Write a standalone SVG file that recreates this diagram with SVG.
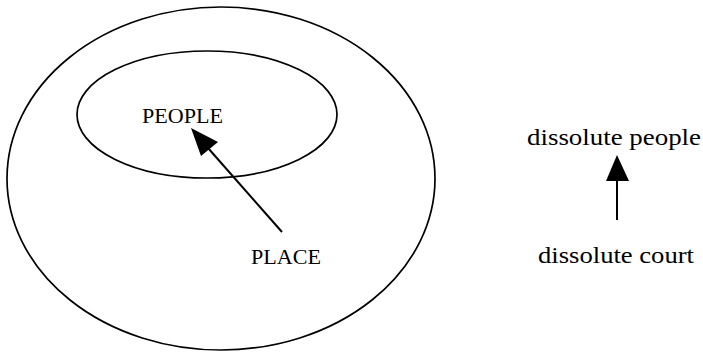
<svg xmlns="http://www.w3.org/2000/svg" width="703" height="353" viewBox="0 0 703 353">
<style>
.shape{fill:none;stroke:#000;stroke-width:1.7}
.lbl{font-family:"Liberation Serif","Times New Roman",serif;fill:#000}
.conn{stroke:#000;stroke-width:2;fill:none}
.head{fill:#000;stroke:none}
</style>
<rect width="703" height="353" fill="#fff"/>
<g id="outer"><ellipse class="shape" cx="221" cy="178.5" rx="214" ry="171.5"/></g>
<g id="inner"><ellipse class="shape" cx="207" cy="114.5" rx="130" ry="63.5"/></g>
<g id="people"><text class="lbl" x="142" y="123" font-size="21" textLength="81" lengthAdjust="spacingAndGlyphs">PEOPLE</text></g>
<g id="place"><text class="lbl" x="251" y="264" font-size="22" textLength="70" lengthAdjust="spacingAndGlyphs">PLACE</text></g>
<g id="dissolute-people"><text class="lbl" x="527" y="145" font-size="24" textLength="174" lengthAdjust="spacingAndGlyphs">dissolute people</text></g>
<g id="dissolute-court"><text class="lbl" x="538" y="263" font-size="24" textLength="156" lengthAdjust="spacingAndGlyphs">dissolute court</text></g>
<g id="connectors">
<line class="conn" x1="282" y1="232" x2="208" y2="148"/>
<polygon class="head" points="191,128 201,156 218,142"/>
<line class="conn" x1="617" y1="220" x2="617" y2="178" stroke-width="1.6"/>
<polygon class="head" points="617,155 606,181 629,181"/>
</g>
</svg>
